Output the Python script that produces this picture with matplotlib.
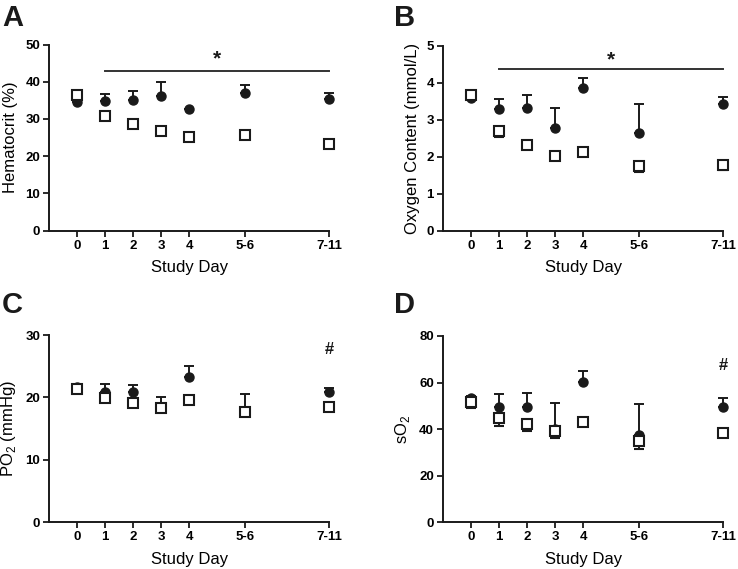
import matplotlib
matplotlib.use("Agg")
import matplotlib.pyplot as plt

plt.rcParams['font.family'] = ['Liberation Sans', 'DejaVu Sans']
plt.rcParams['mathtext.fontset'] = 'custom'
plt.rcParams['mathtext.rm'] = 'Liberation Sans'

day_labels = ["0", "1", "2", "3", "4", "5-6", "7-11"]
day_pos = [0, 1, 2, 3, 4, 6, 9]

# Panel A: Hematocrit (%)
hct_circle = [34.6, 34.9, 35.2, 36.2, 32.8, 36.9, 35.3]
hct_circle_err = [0.3, 1.9, 2.3, 3.8, 0.0, 2.3, 1.6]
hct_square = [36.5, 30.7, 28.7, 26.7, 25.1, 25.7, 23.3]
hct_square_err = [0.3, 0.4, 0.4, 0.4, 0.3, 0.6, 0.6]

# Panel B: Oxygen content (mmol/L)
o2c_circle = [3.59, 3.30, 3.32, 2.77, 3.87, 2.63, 3.42]
o2c_circle_err = [0.05, 0.25, 0.34, 0.54, 0.27, 0.80, 0.18]
o2c_square = [3.68, 2.69, 2.32, 2.01, 2.12, 1.74, 1.78]
o2c_square_err = [0.12, 0.15, 0.05, 0.04, 0.06, 0.16, 0.14]

# Panel C: PO2 (mmHg)
po2_circle = [21.6, 20.9, 20.8, 18.3, 23.3, 17.7, 20.9]
po2_circle_err = [0.3, 1.2, 1.2, 1.8, 1.8, 2.9, 0.6]
po2_square = [21.3, 19.9, 19.1, 18.3, 19.6, 17.6, 18.4]
po2_square_err = [0.6, 0.5, 0.6, 0.3, 0.3, 0.4, 0.2]

# Panel D: sO2
so2_circle = [53.2, 49.6, 49.4, 40.2, 60.1, 37.5, 49.6]
so2_circle_err = [1.0, 5.5, 6.3, 11.0, 5.0, 13.1, 3.6]
so2_square = [51.5, 44.8, 42.2, 39.3, 42.9, 34.8, 38.5]
so2_square_err = [2.3, 3.3, 3.0, 3.2, 1.5, 3.2, 1.3]

W, H = 738, 569
fig = plt.figure(figsize=(W / 100, H / 100), dpi=100)


def px_axes(left, top, right, bottom):
    return fig.add_axes([left / W, (H - bottom) / H, (right - left) / W, (bottom - top) / H])


panels = [
    dict(box=(49.3, 44.5, 329.0, 230.7), letter="A", lx=2, ly=26,
         c=hct_circle, ce=hct_circle_err, s=hct_square, se=hct_square_err,
         ylim=50, yticks=[0, 10, 20, 30, 40, 50], ylabel="Hematocrit (%)",
         sig=("*", 42.75, 46.2)),
    dict(box=(443.0, 45.7, 723.3, 230.7), letter="B", lx=394, ly=26,
         c=o2c_circle, ce=o2c_circle_err, s=o2c_square, se=o2c_square_err,
         ylim=5, yticks=[0, 1, 2, 3, 4, 5], ylabel="Oxygen Content (mmol/L)",
         sig=("*", 4.36, 4.62)),
    dict(box=(49.3, 335.0, 329.0, 522.3), letter="C", lx=2, ly=313,
         c=po2_circle, ce=po2_circle_err, s=po2_square, se=po2_square_err,
         ylim=30, yticks=[0, 10, 20, 30], ylabel=r"PO$_\mathregular{2}$ (mmHg)",
         sig=("#", None, 27.6)),
    dict(box=(443.0, 336.0, 723.3, 522.3), letter="D", lx=394, ly=313,
         c=so2_circle, ce=so2_circle_err, s=so2_square, se=so2_square_err,
         ylim=80, yticks=[0, 20, 40, 60, 80], ylabel=r"sO$_\mathregular{2}$",
         sig=("#", None, 67.2)),
]

dark = "#1a1a1a"
for p in panels:
    ax = px_axes(*p["box"])
    ax.set_xlim(-1, 9)
    ax.set_ylim(0, p["ylim"])
    ax.set_yticks(p["yticks"])
    ax.set_xticks(day_pos)
    ax.set_xticklabels(day_labels)
    for t in ax.get_xticklabels() + ax.get_yticklabels():
        t.set_fontweight("bold")
        t.set_fontsize(9.5)
    ax.tick_params(direction="out", length=4.5, width=1.3, color=dark, pad=2)
    for side in ("top", "right"):
        ax.spines[side].set_visible(False)
    for side in ("left", "bottom"):
        ax.spines[side].set_linewidth(1.4)
        ax.spines[side].set_color(dark)
    ax.set_xlabel("Study Day", fontsize=12, labelpad=6)
    ax.set_ylabel(p["ylabel"], fontsize=12, labelpad=5)

    # circles: upper error bars only
    ax.errorbar(day_pos, p["c"], yerr=[[0] * 7, p["ce"]], fmt="o", color=dark,
                ms=6.5, elinewidth=1.4, capsize=3.5, capthick=1.4, clip_on=False,
                zorder=3)
    # squares: lower error bars only
    ax.errorbar(day_pos, p["s"], yerr=[p["se"], [0] * 7], fmt="s", color=dark,
                mfc="white", mec=dark, mew=1.5, ms=7, elinewidth=1.4, capsize=3.5,
                capthick=1.4, clip_on=False, zorder=4)

    sym, liney, texty = p["sig"]
    if liney is not None:
        ax.plot([1, 9], [liney, liney], color="#333333", lw=1.4, clip_on=False)
        ax.text(5, texty, sym, ha="center", va="center", fontsize=15,
                fontweight="bold", color=dark)
    else:
        ax.text(9, texty, sym, ha="center", va="center", fontsize=12,
                fontweight="bold", color=dark)

    fig.text(p["lx"] / W, (H - p["ly"]) / H, p["letter"], fontsize=21,
             fontweight="bold", ha="left", va="baseline", color=dark)

fig.savefig("out.png", dpi=100)
